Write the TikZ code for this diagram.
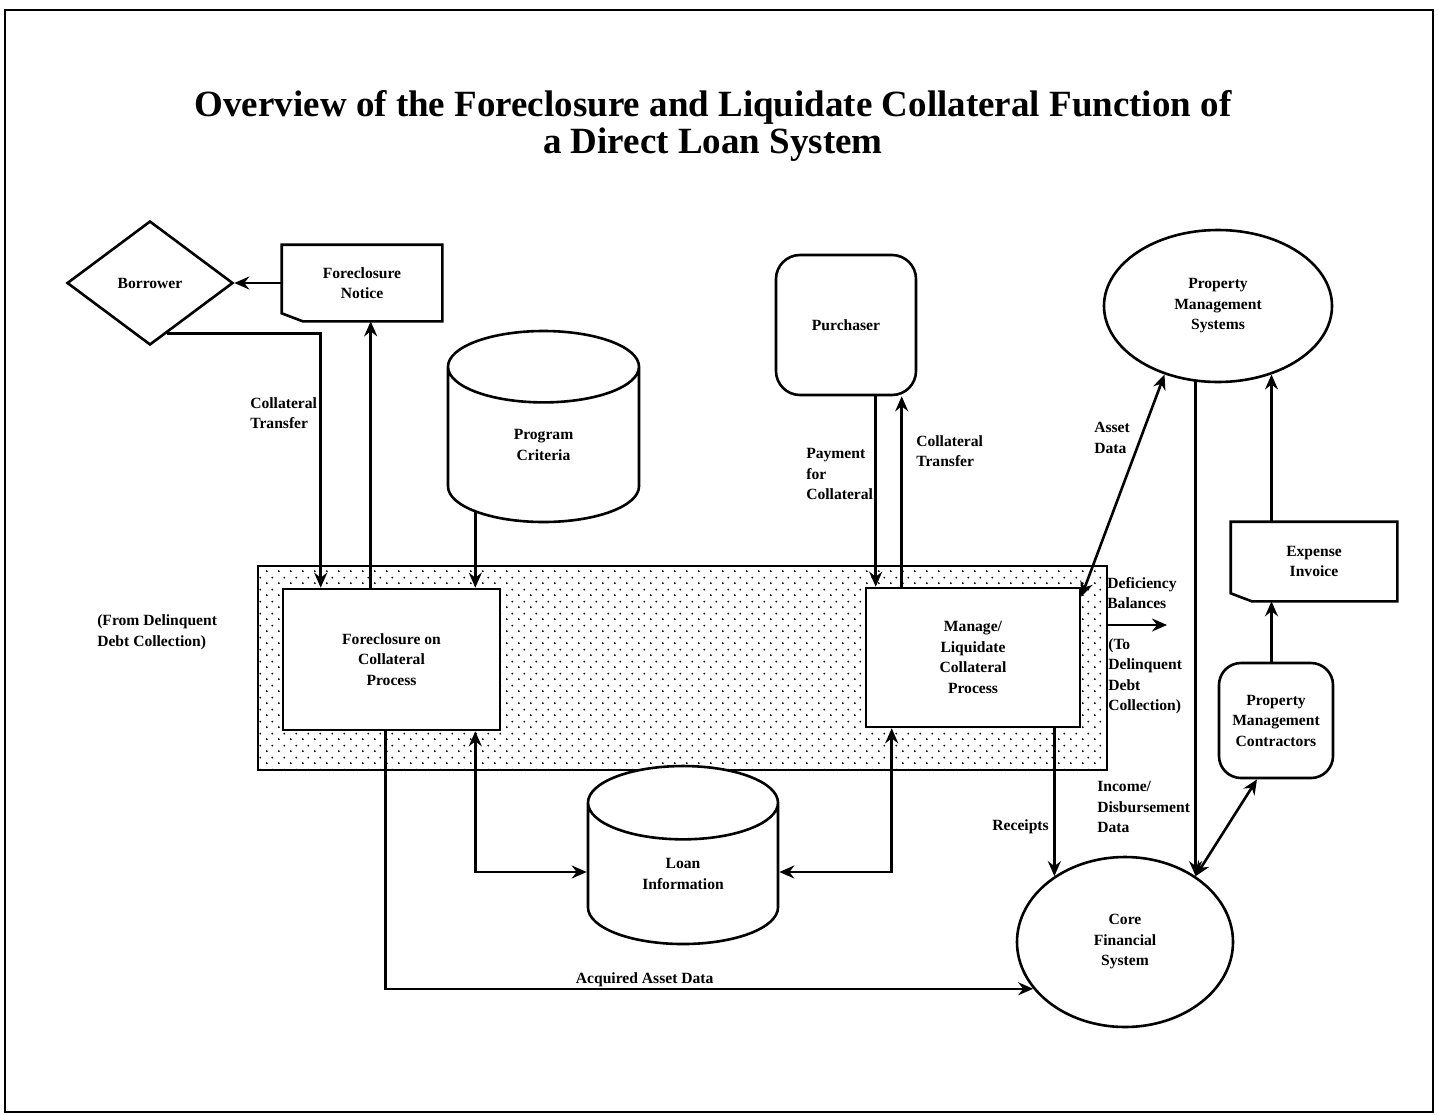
\documentclass[tikz,border=0pt]{standalone}
\usepackage{fontspec}
\setmainfont{Liberation Serif}
\usetikzlibrary{shapes.geometric,arrows.meta,patterns}

\pgfdeclarepatternformonly{scandots}{\pgfpointorigin}{\pgfpoint{12pt}{12pt}}{\pgfpoint{12pt}{12pt}}{%
  \pgfpathcircle{\pgfpoint{3pt}{3pt}}{1.1pt}%
  \pgfpathcircle{\pgfpoint{9pt}{9pt}}{1.1pt}%
  \pgfusepath{fill}}

\pgfdeclarelayer{back}
\pgfdeclarelayer{mid}
\pgfsetlayers{back,mid,main}

\begin{document}
\begin{tikzpicture}
		[x=1pt,y=-1pt,
		%Styles
		every path/.style={line width=2.6pt},
		every node/.style={font=\fontsize{15.6}{20.5}\selectfont\bfseries,inner sep=0pt},
		process/.style={draw,fill=white,align=center},
		party/.style={draw,fill=white,align=center,rounded corners=24pt},
		store/.style={draw,fill=white,align=center,cylinder,shape border rotate=90},
		system/.style={draw,fill=white,align=center,ellipse},
		paper/.style={fill=white,align=center},
		note/.style={align=left,anchor=west},
		flow/.style={-{Stealth[length=15pt,width=13pt,inset=5pt]}},
		twoway/.style={{Stealth[length=15pt,width=13pt,inset=5pt]}-{Stealth[length=15pt,width=13pt,inset=5pt]}}
		]
		\useasboundingbox (0,0) rectangle (1438,1114);
		\draw[line width=2pt] (5,10) rectangle (1433,1112);
		
		%Title
		\node[font=\fontsize{37}{37}\selectfont\bfseries,align=center] (title) at (713,126)
			{Overview of the Foreclosure and Liquidate Collateral Function of\\a Direct Loan System};
		
		%The shaded area
		\begin{pgfonlayer}{back}
			\node[draw,pattern=scandots,minimum width=849pt,minimum height=204pt] (region) at (682.5,668) {};
		\end{pgfonlayer}
		
		%The nodes
		\node[draw,fill=white,diamond,minimum width=166pt,minimum height=124pt] (borrower) at (150,283) {Borrower};
		\node[paper,minimum width=158pt,minimum height=74pt] (notice) at (362,283) {Foreclosure\\Notice};
		\node[paper,minimum width=164pt,minimum height=77pt] (expinv) at (1314,561.5) {Expense\\Invoice};
		\foreach \d in {notice,expinv}
			\draw (\d.north west) -- (\d.north east) -- (\d.south east) -- ([xshift=21pt]\d.south west) -- ([yshift=8pt]\d.south west) -- cycle;
		
		\node[store,aspect=1.2,minimum width=191pt,minimum height=191pt] (progcrit) at (543.5,445) {Program\\Criteria};
		\node[store,aspect=0.9,minimum width=190pt,minimum height=178pt] (loaninfo) at (683,874) {Loan\\Information};
		
		\node[party,minimum width=140pt,minimum height=140pt] (purchaser) at (846,325) {Purchaser};
		\node[party,rounded corners=22pt,minimum width=114pt,minimum height=115pt] (pmcont) at (1276,720.5) {Property\\Management\\Contractors};
		\node[system,minimum width=228pt,minimum height=152pt] (pms) at (1218,306) {Property\\Management\\Systems};
		\node[system,minimum width=216pt,minimum height=170pt] (corefin) at (1125,942) {Core\\Financial\\System};
		\node[process,minimum width=217pt,minimum height=141pt] (fcproc) at (391.5,659.5) {Foreclosure on\\Collateral\\Process};
		\node[process,minimum width=214pt,minimum height=139pt] (mlproc) at (973,657.5) {Manage/\\Liquidate\\Collateral\\Process};
		
		%Flow labels
		\node[note] (lbltransfer) at (249,413) {Collateral\\Transfer};
		\node[note] (lblpayment) at (805,474) {Payment\\for\\Collateral};
		\node[note] (lbltransfer2) at (915,451) {Collateral\\Transfer};
		\node[note] (lblasset) at (1093,438) {Asset\\Data};
		\node[note] (lbldefic) at (1106,593) {Deficiency\\Balances};
		\node[note] (lblto) at (1107,676) {(To\\Delinquent\\Debt\\Collection)};
		\node[note] (lblfrom) at (96,632) {(From Delinquent\\Debt Collection)};
		\node[note] (lblincome) at (1096,807) {Income/\\Disbursement\\Data};
		\node[anchor=east] (lblreceipts) at (1050,827) {Receipts};
		
		%Entry points
		\coordinate (fcin) at ([xshift=-26pt]fcproc.north east);
		\coordinate (fcdb) at ([xshift=-26pt]fcproc.south east);
		\coordinate (fcacq) at ([xshift=104pt]fcproc.south west);
		\coordinate (mlin) at ([xshift=11pt]mlproc.north west);
		\coordinate (mlout) at ([xshift=37pt]mlproc.north west);
		\coordinate (mldb) at ([xshift=27pt]mlproc.south west);
		\coordinate (tocoll) at (1167,625);
		
		%The flows
		\begin{pgfonlayer}{mid}
			\draw[flow] (notice.west) -- (borrower.east);
			\draw[flow] (borrower.-71) -| ([xshift=39pt]fcproc.north west);
			\draw[flow] ([xshift=89pt]fcproc.north west) coordinate (fcup) -- (fcup |- notice.south);
			\draw[flow] (progcrit.center -| fcin) -- (fcin);
			\draw[twoway] (fcdb) |- ([yshift=2pt]loaninfo.west);
			\draw[twoway] (mldb) |- ([yshift=2pt]loaninfo.east);
			\draw[flow] (fcacq) |- node[pos=0.7,above=1pt] (lblacq) {Acquired Asset Data} (corefin.207);
			\draw[flow] (purchaser.south -| mlin) -- (mlin);
			\draw[flow] (mlout) -- (purchaser.south -| mlout);
			\draw[twoway] ([yshift=-10pt]mlproc.north east) -- (pms.232);
			\draw[flow] (pms.center -| corefin.43) -- (corefin.43);
			\draw[twoway] (corefin.43) -- ([xshift=-19pt]pmcont.south);
			\draw[flow] (pms.-52 |- expinv.north) -- (pms.-52);
			\draw[flow] (pms.-52 |- pmcont.north) -- (pms.-52 |- expinv.south);
			\draw[flow] (mlproc.south -| corefin.137) -- (corefin.137);
			\draw[flow] (region.east |- tocoll) -- (tocoll);
		\end{pgfonlayer}
	\end{tikzpicture}
\end{document}
